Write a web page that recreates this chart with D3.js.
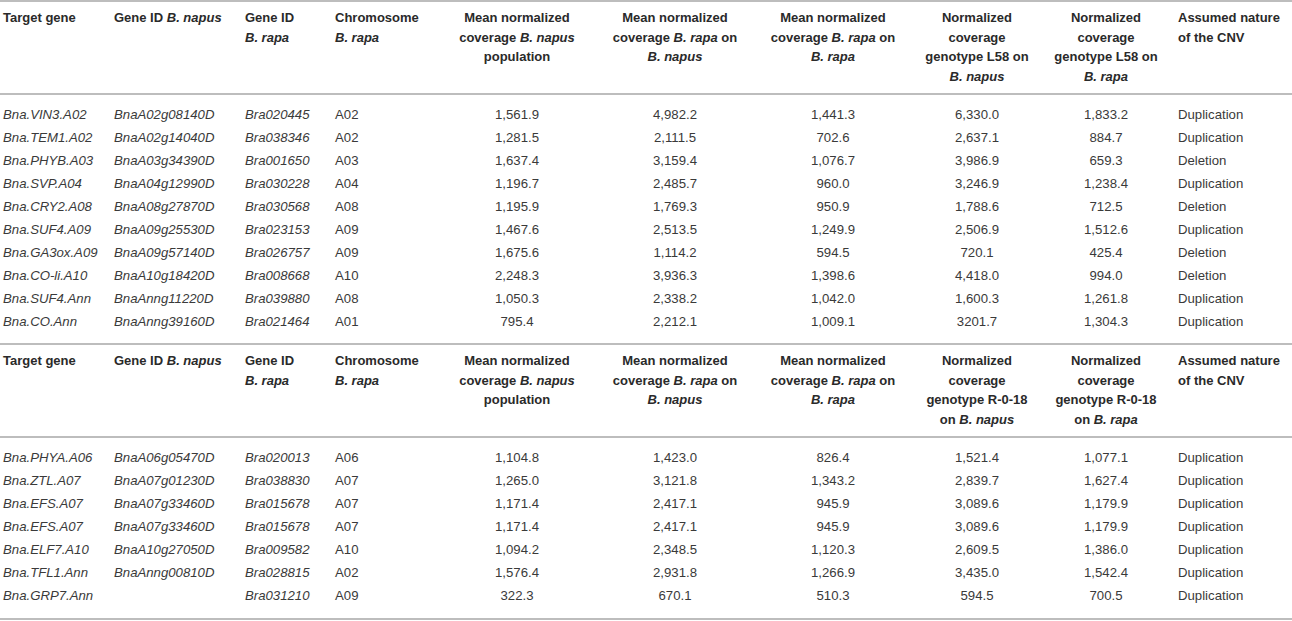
<!DOCTYPE html>
<html lang="en">
<head>
<meta charset="UTF-8">
<title>CNV coverage table</title>
<style>
  body { margin: 0; background: #fff; }
  svg text { font-family: "Liberation Sans", Arial, sans-serif; font-size: 13.2px; fill: #3a3a3a; }
  svg text.head { font-weight: bold; font-size: 13px; fill: #2a2a2a; }
  .rule { stroke: #bdbdbd; stroke-width: 2; }
</style>
</head>
<body>
<div id="chart"></div>
<script src="https://d3js.org/d3.v7.min.js"></script>
<script>
// header labels, one array entry per line, *...* = italic
const headerA = [
  ["Target gene"],
  ["Gene ID *B. napus*"],
  ["Gene ID", "*B. rapa*"],
  ["Chromosome", "*B. rapa*"],
  ["Mean normalized", "coverage *B. napus*", "population"],
  ["Mean normalized", "coverage *B. rapa* on", "*B. napus*"],
  ["Mean normalized", "coverage *B. rapa* on", "*B. rapa*"],
  ["Normalized", "coverage", "genotype L58 on", "*B. napus*"],
  ["Normalized", "coverage", "genotype L58 on", "*B. rapa*"],
  ["Assumed nature", "of the CNV"]
];
const headerB = [
  ["Target gene"],
  ["Gene ID *B. napus*"],
  ["Gene ID", "*B. rapa*"],
  ["Chromosome", "*B. rapa*"],
  ["Mean normalized", "coverage *B. napus*", "population"],
  ["Mean normalized", "coverage *B. rapa* on", "*B. napus*"],
  ["Mean normalized", "coverage *B. rapa* on", "*B. rapa*"],
  ["Normalized", "coverage", "genotype R-0-18", "on *B. napus*"],
  ["Normalized", "coverage", "genotype R-0-18", "on *B. rapa*"],
  ["Assumed nature", "of the CNV"]
];

// section 1 (genotype L58)
const targetA = ["Bna.VIN3.A02", "Bna.TEM1.A02", "Bna.PHYB.A03", "Bna.SVP.A04", "Bna.CRY2.A08",
  "Bna.SUF4.A09", "Bna.GA3ox.A09", "Bna.CO-li.A10", "Bna.SUF4.Ann", "Bna.CO.Ann"];
const napusIdA = ["BnaA02g08140D", "BnaA02g14040D", "BnaA03g34390D", "BnaA04g12990D", "BnaA08g27870D",
  "BnaA09g25530D", "BnaA09g57140D", "BnaA10g18420D", "BnaAnng11220D", "BnaAnng39160D"];
const rapaIdA = ["Bra020445", "Bra038346", "Bra001650", "Bra030228", "Bra030568",
  "Bra023153", "Bra026757", "Bra008668", "Bra039880", "Bra021464"];
const chromA = ["A02", "A02", "A03", "A04", "A08", "A09", "A09", "A10", "A08", "A01"];
const meanNapusA = ["1,561.9", "1,281.5", "1,637.4", "1,196.7", "1,195.9", "1,467.6", "1,675.6", "2,248.3", "1,050.3", "795.4"];
const rapaOnNapusA = ["4,982.2", "2,111.5", "3,159.4", "2,485.7", "1,769.3", "2,513.5", "1,114.2", "3,936.3", "2,338.2", "2,212.1"];
const rapaOnRapaA = ["1,441.3", "702.6", "1,076.7", "960.0", "950.9", "1,249.9", "594.5", "1,398.6", "1,042.0", "1,009.1"];
const genoNapusA = ["6,330.0", "2,637.1", "3,986.9", "3,246.9", "1,788.6", "2,506.9", "720.1", "4,418.0", "1,600.3", "3201.7"];
const genoRapaA = ["1,833.2", "884.7", "659.3", "1,238.4", "712.5", "1,512.6", "425.4", "994.0", "1,261.8", "1,304.3"];
const natureA = ["Duplication", "Duplication", "Deletion", "Duplication", "Deletion",
  "Duplication", "Deletion", "Deletion", "Duplication", "Duplication"];

// section 2 (genotype R-0-18)
const targetB = ["Bna.PHYA.A06", "Bna.ZTL.A07", "Bna.EFS.A07", "Bna.EFS.A07", "Bna.ELF7.A10", "Bna.TFL1.Ann", "Bna.GRP7.Ann"];
const napusIdB = ["BnaA06g05470D", "BnaA07g01230D", "BnaA07g33460D", "BnaA07g33460D", "BnaA10g27050D", "BnaAnng00810D", ""];
const rapaIdB = ["Bra020013", "Bra038830", "Bra015678", "Bra015678", "Bra009582", "Bra028815", "Bra031210"];
const chromB = ["A06", "A07", "A07", "A07", "A10", "A02", "A09"];
const meanNapusB = ["1,104.8", "1,265.0", "1,171.4", "1,171.4", "1,094.2", "1,576.4", "322.3"];
const rapaOnNapusB = ["1,423.0", "3,121.8", "2,417.1", "2,417.1", "2,348.5", "2,931.8", "670.1"];
const rapaOnRapaB = ["826.4", "1,343.2", "945.9", "945.9", "1,120.3", "1,266.9", "510.3"];
const genoNapusB = ["1,521.4", "2,839.7", "3,089.6", "3,089.6", "2,609.5", "3,435.0", "594.5"];
const genoRapaB = ["1,077.1", "1,627.4", "1,179.9", "1,179.9", "1,386.0", "1,542.4", "700.5"];
const natureB = ["Duplication", "Duplication", "Duplication", "Duplication", "Duplication", "Duplication", "Duplication"];

const width = 1292, height = 621;
const svg = d3.select("#chart").append("svg")
  .attr("width", width).attr("height", height);

// column layout: x anchor (left edge or centre) per column
const colX = d3.scaleOrdinal().domain(d3.range(10))
  .range([3, 114, 245, 335, 517, 675, 833, 977, 1106, 1178]);
const colAnchor = i => (i >= 4 && i <= 8) ? "middle" : "start";
const italicCol = i => i <= 2;

function richText(sel, str) {
  str.split("*").forEach((part, k) => {
    if (!part) return;
    sel.append("tspan").text(part).style("font-style", k % 2 ? "italic" : null);
  });
}

function section(top, bottom, header, columns) {
  const headBottom = top + 93;
  const nRows = columns[0].length;
  const y = d3.scaleBand().domain(d3.range(nRows)).range([headBottom + 9, headBottom + 9 + nRows * 23]);
  const hy = d3.scaleLinear().domain([0, 1]).range([top + 21, top + 40.5]);

  svg.append("line").attr("class", "rule")
    .attr("x1", 0).attr("x2", width).attr("y1", top).attr("y2", top);
  svg.append("line").attr("class", "rule")
    .attr("x1", 0).attr("x2", width).attr("y1", headBottom).attr("y2", headBottom);
  if (bottom) {
    svg.append("line").attr("class", "rule")
      .attr("x1", 0).attr("x2", width).attr("y1", bottom).attr("y2", bottom);
  }

  header.forEach((lines, i) => {
    lines.forEach((ln, j) => {
      const t = svg.append("text").attr("class", "head")
        .attr("x", colX(i)).attr("y", hy(j))
        .attr("text-anchor", colAnchor(i));
      richText(t, ln);
    });
  });

  columns.forEach((vals, i) => {
    svg.append("g").selectAll("text").data(vals).join("text")
      .attr("x", colX(i))
      .attr("y", (d, r) => y(r) + y.bandwidth() / 2)
      .attr("dy", "0.35em")
      .attr("text-anchor", colAnchor(i))
      .style("font-style", italicCol(i) ? "italic" : null)
      .text(d => d);
  });
}

section(1, null, headerA,
  [targetA, napusIdA, rapaIdA, chromA, meanNapusA, rapaOnNapusA, rapaOnRapaA, genoNapusA, genoRapaA, natureA]);
section(344, 619, headerB,
  [targetB, napusIdB, rapaIdB, chromB, meanNapusB, rapaOnNapusB, rapaOnRapaB, genoNapusB, genoRapaB, natureB]);
</script>
</body>
</html>
